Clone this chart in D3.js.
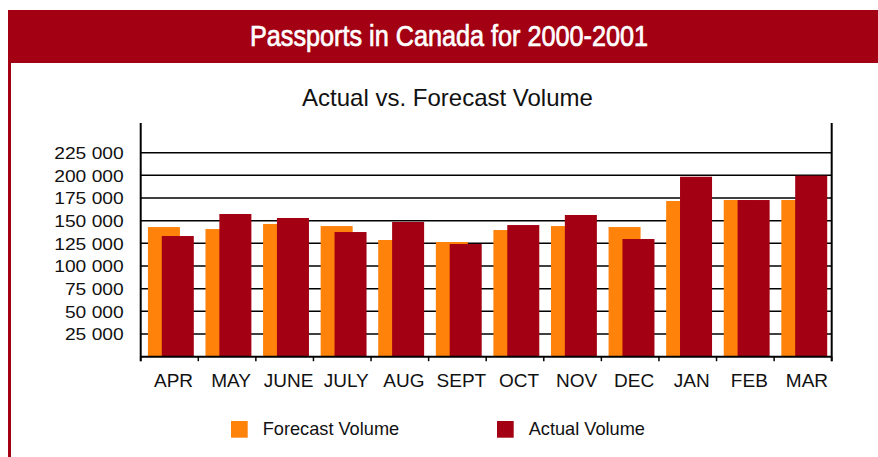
<!DOCTYPE html>
<html>
<head>
<meta charset="utf-8">
<script src="https://cdn.jsdelivr.net/npm/d3@7"></script>
<style>
  html, body { margin: 0; padding: 0; background: #fff; }
  svg { display: block; }
</style>
</head>
<body>
<svg id="chart" width="878" height="457"></svg>
<script>
const categories = ["APR", "MAY", "JUNE", "JULY", "AUG", "SEPT", "OCT", "NOV", "DEC", "JAN", "FEB", "MAR"];
const forecastVolume = [143000, 140800, 146400, 144100, 128700, 126500, 139700, 144100, 143000, 171700, 172800, 172800];
const actualVolume   = [133100, 157400, 153000, 137500, 148600, 124300, 145200, 156300, 129800, 198500, 172800, 199600];
const yTickValues = [25000, 50000, 75000, 100000, 125000, 150000, 175000, 200000, 225000];
const seriesNames = ["Forecast Volume", "Actual Volume"];
const titleText = "Passports in Canada for 2000-2001";
const subtitleText = "Actual vs. Forecast Volume";

const RED = "#A30013";
const ORANGE = "#FF820A";
const colors = [ORANGE, RED];

const svg = d3.select("#chart");
const W = 878;

// Header band
svg.append("rect").attr("x", 8).attr("y", 10).attr("width", W - 8).attr("height", 53).attr("fill", RED);
svg.append("rect").attr("x", 8).attr("y", 62).attr("width", 3).attr("height", 457 - 62).attr("fill", RED);

svg.append("text")
  .attr("x", 449).attr("y", 46)
  .attr("text-anchor", "middle")
  .attr("fill", "#fff")
  .attr("stroke", "#fff").attr("stroke-width", 0.7)
  .style("font-family", "'Liberation Sans Narrow', 'Arial Narrow', 'Liberation Sans', Arial, sans-serif")
  .style("font-weight", "normal")
  .style("font-size", "29px")
  .attr("textLength", 398)
  .attr("lengthAdjust", "spacingAndGlyphs")
  .text(titleText);

svg.append("text")
  .attr("x", 447.5).attr("y", 106)
  .attr("text-anchor", "middle")
  .attr("fill", "#111")
  .style("font-family", "'Liberation Sans', Arial, sans-serif")
  .style("font-size", "24px")
  .text(subtitleText);

// Scales
const left = 140.7, right = 831.7, bottom = 356.7, axisTop = 123;
const x = d3.scaleBand().domain(categories).range([left, right]).paddingInner(0).paddingOuter(0);
const y = d3.scaleLinear().domain([0, 225000]).range([bottom, 152.7]);
const bw = x.bandwidth();

const fmt = d3.formatLocale({ decimal: ".", thousands: " ", grouping: [3], currency: ["", ""] }).format(",");

// Gridlines
svg.append("g").selectAll("line").data(yTickValues).join("line")
  .attr("x1", left).attr("x2", right)
  .attr("y1", d => y(d)).attr("y2", d => y(d))
  .attr("stroke", "#000").attr("stroke-width", 1.5);

// Bars
const barW = bw * 0.556;
const offsets = [bw * 0.125, bw * 0.366];
const series = [forecastVolume, actualVolume];
series.forEach((vals, si) => {
  svg.append("g").selectAll("rect").data(categories).join("rect")
    .attr("x", (d) => x(d) + offsets[si])
    .attr("width", barW)
    .attr("y", (d, i) => y(vals[i]))
    .attr("height", (d, i) => bottom - y(vals[i]))
    .attr("fill", colors[si]);
});

// Axes lines
svg.append("line").attr("x1", left).attr("x2", left).attr("y1", axisTop).attr("y2", bottom + 4.5)
  .attr("stroke", "#000").attr("stroke-width", 2);
svg.append("line").attr("x1", right).attr("x2", right).attr("y1", axisTop).attr("y2", bottom + 4.5)
  .attr("stroke", "#000").attr("stroke-width", 2);
svg.append("line").attr("x1", left).attr("x2", right).attr("y1", bottom).attr("y2", bottom)
  .attr("stroke", "#000").attr("stroke-width", 2);

// Bottom ticks at band boundaries
const boundaries = categories.map(c => x(c)).concat([right]);
svg.append("g").selectAll("line").data(boundaries).join("line")
  .attr("x1", d => d).attr("x2", d => d)
  .attr("y1", bottom).attr("y2", bottom + 4.5)
  .attr("stroke", "#000").attr("stroke-width", 1.5);

// Y axis labels
const yAxis = d3.axisLeft(y).tickValues(yTickValues).tickSize(0).tickPadding(17).tickFormat(fmt);
const gy = svg.append("g").attr("transform", `translate(${left},0)`).call(yAxis);
gy.select(".domain").remove();
gy.selectAll("text")
  .attr("fill", "#111")
  .style("font-family", "'Liberation Sans', Arial, sans-serif")
  .style("font-size", "16.3px")
  .attr("dy", "0.36em")
  .each(function () {
    const w = this.getComputedTextLength();
    d3.select(this).attr("textLength", w * 1.18).attr("lengthAdjust", "spacingAndGlyphs");
  });

// X axis labels
const xAxis = d3.axisBottom(x).tickSize(0).tickPadding(0);
const gx = svg.append("g").attr("transform", `translate(4,0)`).call(xAxis);
gx.select(".domain").remove();
gx.selectAll("text")
  .attr("y", 387.3).attr("dy", 0)
  .attr("fill", "#111")
  .style("font-family", "'Liberation Sans', Arial, sans-serif")
  .style("font-size", "19px");

// Legend
const legendX = [231, 497];
const lg = svg.append("g").selectAll("g").data(seriesNames).join("g")
  .attr("transform", (d, i) => `translate(${legendX[i]},421)`);
lg.append("rect").attr("width", 16.7).attr("height", 16.7).attr("fill", (d, i) => colors[i]);
lg.append("text").attr("x", 31.7).attr("y", 14.2)
  .attr("fill", "#111")
  .style("font-family", "'Liberation Sans', Arial, sans-serif")
  .style("font-size", "18.2px")
  .text(d => d);
</script>
</body>
</html>
